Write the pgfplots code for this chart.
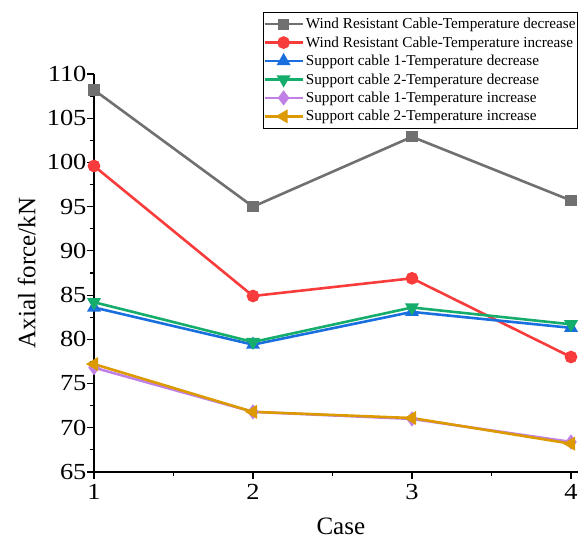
\documentclass[border=0pt]{standalone}
\usepackage{fontspec}
\setmainfont{Liberation Serif}
\newfontfamily\tickfont[FakeStretch=1.15]{Liberation Serif}
\usepackage{pgfplots}
\pgfplotsset{compat=1.18}
\definecolor{cgray}{HTML}{707070}
\definecolor{cred}{HTML}{F83C3C}
\definecolor{cblue}{HTML}{1A6FDF}
\definecolor{cgreen}{HTML}{15AD6B}
\definecolor{cpurple}{HTML}{C080E6}
\definecolor{corange}{HTML}{DC9A00}
\begin{document}
\begin{tikzpicture}
\begin{axis}[
  at={(0pt,0pt)}, anchor=origin,
  scale only axis,
  width=484pt, height=398pt,
  xmin=1, xmax=4.044, ymin=65, ymax=110,
  axis x line*=bottom, axis y line*=left,
  axis line style={line width=1.3pt, -},
  xtick={1,2,3,4}, minor x tick num=1,
  ytick={65,70,...,110}, minor y tick num=1,
  tick align=outside,
  major tick length=7pt, minor tick length=4pt,
  tick style={line width=1.1pt, black},
  /pgf/number format/assume math mode=true,
  tick label style={font=\tickfont\fontsize{23}{28}\selectfont},
  yticklabel style={xshift=3pt},
  xticklabel style={yshift=-2pt},
  xlabel={Case}, ylabel={Axial force/kN},
  label style={font=\fontsize{25}{30}\selectfont},
  xlabel style={at={(axis description cs:0.51,-0.136)}, anchor=center},
  ylabel style={at={(axis description cs:-0.139,0.5)}, anchor=center},
  every axis plot/.append style={line width=2.6pt},
  mark options={solid},
  legend style={at={(0.349,1.156)}, anchor=north west, draw=black, line width=0.8pt,
    font=\fontsize{15.2}{18}\selectfont, inner xsep=0pt, inner ysep=3.8pt, row sep=2.4pt},
  legend cell align=left,
  legend image code/.code={\draw[mark repeat=2,mark phase=2,#1] plot coordinates {(0pt,0pt) (19pt,0pt) (38pt,0pt)};},
]
\addplot[color=cgray, mark=square*, mark size=4.3pt] coordinates {(1,108.2) (2,95.0) (3,102.9) (4,95.7)};
\addlegendentry{Wind Resistant Cable-Temperature decrease}
\addplot[color=cred, mark=*, mark size=5pt] coordinates {(1,99.6) (2,84.9) (3,86.9) (4,78.0)};
\addlegendentry{Wind Resistant Cable-Temperature increase}
\addplot[color=cblue, mark=triangle*, mark size=5.5pt] coordinates {(1,83.6) (2,79.4) (3,83.1) (4,81.3)};
\addlegendentry{Support cable 1-Temperature decrease}
\addplot[color=cgreen, mark=triangle*, mark size=5.5pt, mark options={rotate=180}] coordinates {(1,84.2) (2,79.7) (3,83.6) (4,81.7)};
\addlegendentry{Support cable 2-Temperature decrease}
\addplot[color=cpurple, mark=diamond*, mark size=5.5pt] coordinates {(1,76.8) (2,71.8) (3,71.0) (4,68.4)};
\addlegendentry{Support cable 1-Temperature increase}
\addplot[color=corange, mark=triangle*, mark size=5.5pt, mark options={rotate=90}] coordinates {(1,77.2) (2,71.8) (3,71.1) (4,68.2)};
\addlegendentry{Support cable 2-Temperature increase}
\end{axis}
\pgfresetboundingbox
\path[use as bounding box] (-94pt,-69pt) rectangle (485pt,472pt);
\end{tikzpicture}
\end{document}
